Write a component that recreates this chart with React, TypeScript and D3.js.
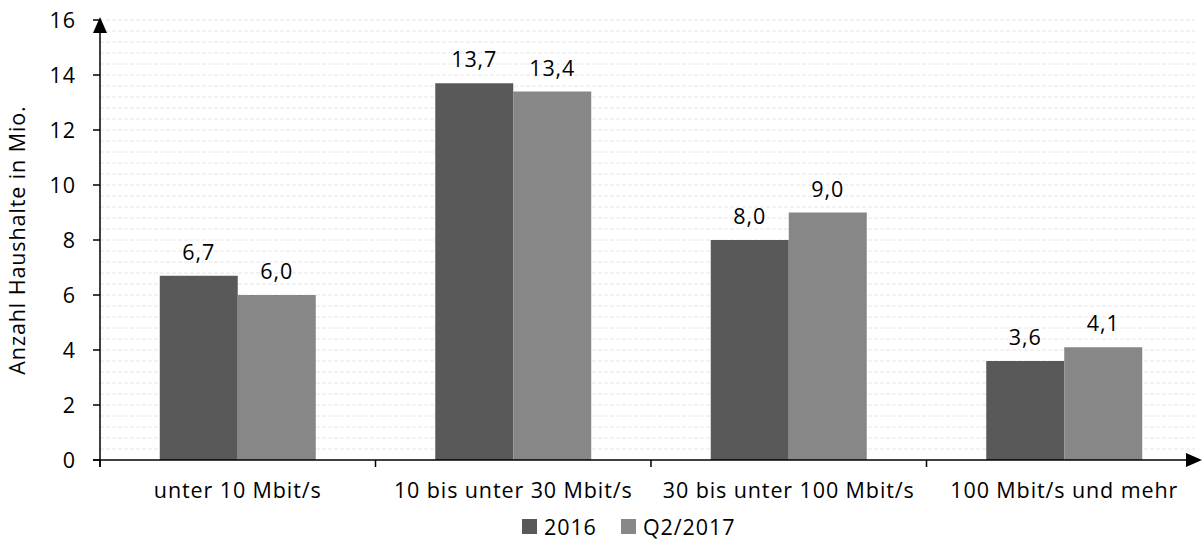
import React from "react";
import * as d3 from "d3";

const categories = ["unter 10 Mbit/s", "10 bis unter 30 Mbit/s", "30 bis unter 100 Mbit/s", "100 Mbit/s und mehr"];
const seriesNames = ["2016", "Q2/2017"];
const values2016 = [6.7, 13.7, 8.0, 3.6];
const valuesQ2017 = [6.0, 13.4, 9.0, 4.1];
const yTicks = [0, 2, 4, 6, 8, 10, 12, 14, 16];
const colors = ["#595959", "#878787"];

const W = 1202, H = 547;
const FONT = "'Open Sans', sans-serif";
const FS = 21.5;
const LS = 0.9;

export default function App() {
  const x0 = 100, x1 = 1202;
  const yTop = 20, yBot = 460;
  const y = d3.scaleLinear().domain([0, 16]).range([yBot, yTop]);
  const xb = d3.scaleBand<string>().domain(categories).range([x0, x1]).paddingInner(0).paddingOuter(0);
  const inner = d3.scaleBand<string>().domain(seriesNames).range([0, xb.bandwidth()]).paddingOuter(0.766).paddingInner(0);
  const series = [values2016, valuesQ2017];
  const grid = d3.range(1, 41).map((i) => i * 0.4);
  const fmt = (v: number) => v.toFixed(1).replace(".", ",");

  return (
    <svg width={W} height={H} style={{ position: "absolute", left: 0, top: 0, background: "#fff" }} fontFamily={FONT} letterSpacing={LS}>
      {grid.map((g) => (
        <line key={g} x1={x0} x2={1195} y1={y(g)} y2={y(g)} stroke="#e6e6e6" strokeWidth={1} strokeDasharray="4,2" />
      ))}
      {categories.map((c, ci) =>
        seriesNames.map((s, si) => (
          <g key={c + s}>
            <rect x={(xb(c) as number) + (inner(s) as number)} y={y(series[si][ci])} width={inner.bandwidth()} height={yBot - y(series[si][ci])} fill={colors[si]} />
            <text x={(xb(c) as number) + (inner(s) as number) + inner.bandwidth() / 2} y={y(series[si][ci]) - 16} textAnchor="middle" fontSize={FS} fill="#000">{fmt(series[si][ci])}</text>
          </g>
        ))
      )}
      {/* y axis */}
      <line x1={x0} x2={x0} y1={yBot + 7} y2={yTop + 4} stroke="#000" strokeWidth={1.5} />
      <path d={`M${x0},${yTop - 3} L${x0 - 7},${yTop + 13} L${x0 + 7},${yTop + 13} Z`} fill="#000" />
      {yTicks.map((t) => (
        <g key={t}>
          <line x1={x0 - 7} x2={x0} y1={y(t)} y2={y(t)} stroke="#000" strokeWidth={1.5} />
          <text x={x0 - 24} y={y(t)} dy="0.35em" textAnchor="end" fontSize={FS}>{t}</text>
        </g>
      ))}
      {/* x axis */}
      <line x1={x0 - 7} x2={1190} y1={yBot} y2={yBot} stroke="#000" strokeWidth={1.5} />
      <path d={`M1202,${yBot} L1186,${yBot - 7} L1186,${yBot + 7} Z`} fill="#000" />
      {categories.map((c) => (
        <line key={"t" + c} x1={xb(c) as number} x2={xb(c) as number} y1={yBot} y2={yBot + 7} stroke="#000" strokeWidth={1.5} />
      ))}
      {categories.map((c) => (
        <text key={"l" + c} x={(xb(c) as number) + xb.bandwidth() / 2} y={498} textAnchor="middle" fontSize={FS}>{c}</text>
      ))}
      <text transform={`translate(25,${(yTop + yBot) / 2}) rotate(-90)`} textAnchor="middle" fontSize={FS}>Anzahl Haushalte in Mio.</text>
      {/* legend */}
      <rect x={522} y={519} width={15} height={15} fill={colors[0]} />
      <text x={544} y={535} fontSize={FS}>{seriesNames[0]}</text>
      <rect x={621} y={519} width={15} height={15} fill={colors[1]} />
      <text x={643} y={535} fontSize={FS}>{seriesNames[1]}</text>
    </svg>
  );
}
